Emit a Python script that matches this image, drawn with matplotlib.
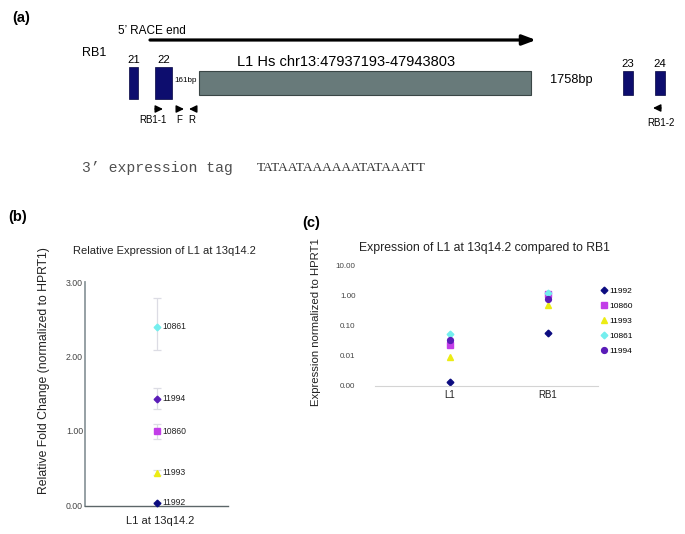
import matplotlib
matplotlib.use("Agg")
import matplotlib.pyplot as plt
from matplotlib.patches import Rectangle

plt.rcParams['font.family'] = ['Liberation Sans', 'DejaVu Sans']

# ---------------- data ----------------
# panel (b): relative fold change of L1 at 13q14.2
samples_b = ['10861', '11994', '10860', '11993', '11992']
fold_change = [2.40, 1.43, 1.00, 0.44, 0.04]
fold_err_low = [0.31, 0.13, 0.11, 0.03, 0.01]
fold_err_high = [0.39, 0.15, 0.10, 0.03, 0.01]
b_yticks = [0, 1, 2, 3]
b_yticklabels = ['0.00', '1.00', '2.00', '3.00']

# panel (c): expression normalised to HPRT1 (log scale)
categories_c = ['L1', 'RB1']
samples_c = ['11992', '10860', '11993', '10861', '11994']
l1_expr = [0.0013, 0.022, 0.0093, 0.053, 0.033]
rb1_expr = [0.058, 1.15, 0.48, 1.20, 0.79]
c_yticks = [0.001, 0.01, 0.1, 1, 10]
c_yticklabels = ['0.00', '0.01', '0.10', '1.00', '10.00']

colors = {'11992': '#0c0c80', '10860': '#c23ee8', '11993': '#ecec14',
          '10861': '#74eeee', '11994': '#5a1cb8'}
markers_b = {'11992': 'D', '10860': 's', '11993': '^', '10861': 'D', '11994': 'D'}
markers_c = {'11992': 'D', '10860': 's', '11993': '^', '10861': 'D', '11994': 'o'}
msize = {'D': 3.4, 's': 4.2, '^': 5.0, 'o': 4.2}

# ---------------- figure ----------------
W, H = 685, 534
fig = plt.figure(figsize=(W / 100, H / 100), dpi=100)
fig.patch.set_facecolor('white')

# overlay axes in pixel coordinates for the diagram and free text
ax0 = fig.add_axes([0, 0, 1, 1])
ax0.set_xlim(0, W)
ax0.set_ylim(H, 0)
ax0.axis('off')

# ---- panel (a): schematic ----
ax0.text(12, 18, '(a)', fontsize=10.5, fontweight='bold', ha='left', va='center')
ax0.text(118, 31, '5\u2019 RACE end', fontsize=8.5, ha='left', va='center')
ax0.annotate('', xy=(536, 40), xytext=(150, 40),
             arrowprops=dict(arrowstyle='-|>,head_length=0.8,head_width=0.3',
                             lw=2.3, color='black', shrinkA=0, shrinkB=0))
ax0.text(82, 53, 'RB1', fontsize=9, ha='left', va='center')

exon_col = '#0d0d6e'
exons = [('21', 129, 66.7, 9, 32.6), ('22', 155, 66.7, 17.5, 32.6),
         ('23', 623.5, 70.5, 9.5, 24.2), ('24', 655.5, 70.5, 9.5, 24.2)]
for name, x, y, w, h in exons:
    ax0.add_patch(Rectangle((x, y), w, h, facecolor=exon_col, edgecolor='#050540', lw=0.5))
    ax0.text(x + w / 2, y - 6.5, name, fontsize=8.2, ha='center', va='center')

ax0.add_patch(Rectangle((199, 70.5), 332, 24.2, facecolor='#687a7a', edgecolor='#3a4646', lw=0.8))
ax0.text(237, 62, 'L1 Hs chr13:47937193-47943803', fontsize=10.5, ha='left', va='center')
ax0.text(174, 81, '161bp', fontsize=5.8, ha='left', va='center')
ax0.text(550, 80, '1758bp', fontsize=9.2, ha='left', va='center')

# primers
primers = [(155, 163, 109, 'RB1-1', 153, 120),
           (177, 184, 109, 'F', 179, 120),
           (196, 189, 109, 'R', 192, 120),
           (661, 653, 108, 'RB1-2', 661, 123)]
for x0, x1, yy, lab, lx, ly in primers:
    ax0.annotate('', xy=(x1, yy), xytext=(x0, yy),
                 arrowprops=dict(arrowstyle='-|>,head_length=0.45,head_width=0.22',
                                 lw=1.0, color='black', shrinkA=0, shrinkB=0))
    ax0.text(lx, ly, lab, fontsize=7, ha='center', va='center')

ax0.text(82, 168, '3\u2019 expression tag', family=['Liberation Mono', 'DejaVu Sans Mono'],
         fontsize=10.6, color='#505050', ha='left', va='center')
ax0.text(257, 168, 'TATAATAAAAAATATAAATT', family=['Liberation Serif', 'DejaVu Serif'],
         fontsize=9.6, color='#333333', ha='left', va='center')

# ---- panel labels and titles ----
ax0.text(8, 217, '(b)', fontsize=10.5, fontweight='bold', ha='left', va='center')
ax0.text(302, 223, '(c)', fontsize=10.5, fontweight='bold', ha='left', va='center')
ax0.text(164, 251, 'Relative Expression of L1 at 13q14.2', fontsize=8, color='#222222',
         ha='center', va='center')
ax0.text(44, 371, 'Relative Fold Change (normalized to HPRT1)', fontsize=8.8, rotation=90,
         ha='center', va='center', color='#222222')
ax0.text(160, 521, 'L1 at 13q14.2', fontsize=8, ha='center', va='center', color='#222222')
ax0.text(484, 248, 'Expression of L1 at 13q14.2 compared to RB1', fontsize=8.8,
         ha='center', va='center', color='#222222')
ax0.text(316, 322, 'Expression normalized to HPRT1', fontsize=8.2, rotation=90,
         ha='center', va='center', color='#222222')

# ---- panel (b) ----
axb = fig.add_axes([85 / W, 1 - 505.5 / H, 143 / W, 223.5 / H])
axb.set_xlim(0, 2)
axb.set_ylim(0, 3)
for s in ['top', 'right']:
    axb.spines[s].set_visible(False)
axb.spines['left'].set_color('#8e999d')
axb.spines['left'].set_linewidth(1.3)
axb.spines['bottom'].set_color('#5c6669')
axb.spines['bottom'].set_linewidth(1.0)
axb.set_xticks([])
axb.set_yticks(b_yticks)
axb.set_yticklabels(b_yticklabels)
axb.tick_params(axis='y', length=0, pad=1.5, labelsize=6.3, labelcolor='#444444')
axb.patch.set_alpha(0)

xs = [1] * len(samples_b)
axb.errorbar(xs, fold_change, yerr=[fold_err_low, fold_err_high], fmt='none',
             ecolor='#dcdce4', elinewidth=0.9, capsize=3, capthick=0.9, zorder=2)
for s, v in zip(samples_b, fold_change):
    m = markers_b[s]
    axb.plot([1], [v], marker=m, ms=msize[m], color=colors[s], mec=colors[s],
             linestyle='none', zorder=3, clip_on=False)
    axb.annotate(s, (1, v), xytext=(4, 0), textcoords='offset points',
                 fontsize=6.2, va='center', ha='left', color='#222222')

# ---- panel (c) ----
axc = fig.add_axes([375 / W, 1 - 385.7 / H, 223 / W, 120 / H])
axc.set_yscale('log')
axc.set_ylim(0.001, 10)
axc.set_xlim(-0.764, 1.509)
for s in ['top', 'right', 'left']:
    axc.spines[s].set_visible(False)
axc.spines['bottom'].set_color('#d4d4d4')
axc.spines['bottom'].set_linewidth(0.8)
axc.set_yticks(c_yticks)
axc.set_yticklabels(c_yticklabels)
axc.minorticks_off()
axc.set_xticks(range(len(categories_c)))
axc.set_xticklabels(categories_c)
axc.tick_params(axis='y', length=0, pad=14, labelsize=5.8, labelcolor='#444444')
axc.tick_params(axis='x', length=0, pad=3, labelsize=7, labelcolor='#222222')
axc.patch.set_alpha(0)

handles = []
for i, s in enumerate(samples_c):
    m = markers_c[s]
    h, = axc.plot([0, 1], [l1_expr[i], rb1_expr[i]], marker=m, ms=msize[m],
                  color=colors[s], mec=colors[s], linestyle='none', label=s, clip_on=False)
    handles.append(h)

axc.legend(handles=handles, loc='upper left', bbox_to_anchor=(601 / W, 1 - 287.5 / H),
           bbox_transform=fig.transFigure, frameon=False, fontsize=6.0,
           handlelength=0.7, handletextpad=0.3, labelspacing=0.85,
           borderpad=0, borderaxespad=0)

fig.savefig('out.png', dpi=100, facecolor='white')
